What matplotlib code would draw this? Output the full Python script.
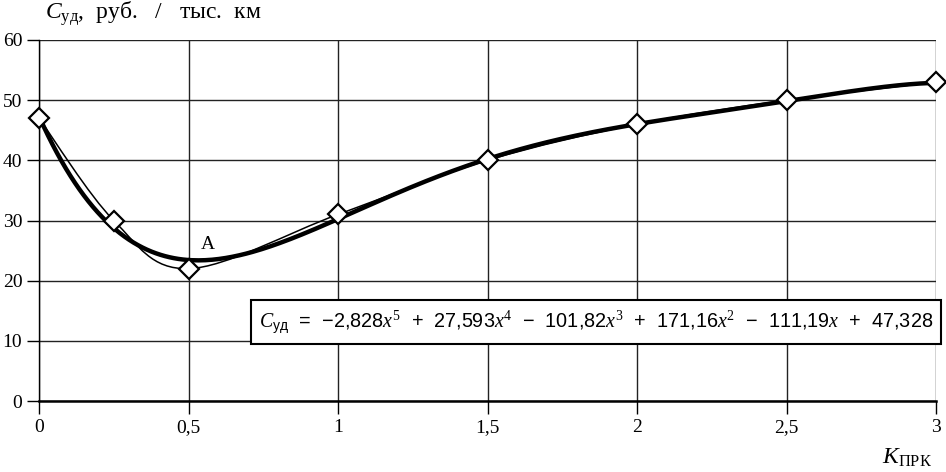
import numpy as np
import matplotlib
matplotlib.use("Agg")
import matplotlib.pyplot as plt
from matplotlib.path import Path
from matplotlib.patches import PathPatch

# Data
x_pts = [0, 0.25, 0.5, 1.0, 1.5, 2.0, 2.5, 3.0]
y_pts = [47, 30, 22, 31, 40, 46, 50, 53]
poly_coeffs = [-2.828, 27.593, -101.82, 171.16, -111.19, 47.328]
x_ticks = [0, 0.5, 1, 1.5, 2, 2.5, 3]
x_tick_labels = ["0", "0,5", "1", "1,5", "2", "2,5", "3"]
y_ticks = [0, 10, 20, 30, 40, 50, 60]

plt.rcParams["mathtext.fontset"] = "custom"
plt.rcParams["mathtext.rm"] = "Liberation Serif"
plt.rcParams["mathtext.it"] = "Liberation Serif:italic"
plt.rcParams["mathtext.bf"] = "Liberation Serif:bold"

serif = ["Liberation Serif", "DejaVu Serif"]
narrow = ["Liberation Sans Narrow", "Liberation Sans", "DejaVu Sans"]

fig = plt.figure(figsize=(9.46, 4.72), dpi=100)
ax = fig.add_axes([39/946, 71/472, (936-39)/946, (401-40)/472])
ax.set_xlim(0, 3)
ax.set_ylim(0, 60)

for s in ["top", "right"]:
    ax.spines[s].set_visible(False)
ax.spines["left"].set_linewidth(1.0)
ax.spines["bottom"].set_linewidth(1.8)

ax.set_xticks(x_ticks)
ax.set_xticklabels(x_tick_labels, fontfamily=serif, fontsize=14)
ax.set_yticks(y_ticks)
ax.set_yticklabels([str(v) for v in y_ticks], fontfamily=serif, fontsize=14)
ax.tick_params(axis="both", direction="out", length=9, width=1.0, color="black")
ax.tick_params(axis="x", pad=4)
ax.tick_params(axis="y", pad=3)
ax.grid(True, color="#222222", linewidth=1.0)
ax.set_axisbelow(True)

# Thin smoothed line through points (Catmull-Rom -> Bezier)
xs = np.array(x_pts, float)
ys = np.array(y_pts, float)
verts = [(xs[0], ys[0])]
codes = [Path.MOVETO]
n = len(xs)
for i in range(n - 1):
    p0 = np.array([xs[max(i-1, 0)], ys[max(i-1, 0)]])
    p1 = np.array([xs[i], ys[i]])
    p2 = np.array([xs[i+1], ys[i+1]])
    p3 = np.array([xs[min(i+2, n-1)], ys[min(i+2, n-1)]])
    c1 = p1 + (p2 - p0) / 6.0
    c2 = p2 - (p3 - p1) / 6.0
    verts += [tuple(c1), tuple(c2), tuple(p2)]
    codes += [Path.CURVE4] * 3
ax.add_patch(PathPatch(Path(verts, codes), facecolor="none", edgecolor="black",
                       linewidth=1.1, zorder=3))

# Polynomial trendline
xx = np.linspace(0, 3, 400)
ax.plot(xx, np.polyval(poly_coeffs, xx), color="black", linewidth=3.2, zorder=4,
        solid_capstyle="round")

ax.plot(x_pts, y_pts, linestyle="none", marker="D", markersize=10,
        markerfacecolor="white", markeredgecolor="black", markeredgewidth=1.6,
        zorder=5, clip_on=False)

ax.text(0.54, 25.3, "A", fontfamily=serif, fontsize=14, zorder=6)

# Equation box
eq = (r"$C_{\mathregular{уд}}$  =  −2,828$x^5$  +  27,593$x^4$  −  101,82$x^3$"
      r"  +  171,16$x^2$  −  111,19$x$  +  47,328")
fig.text(596/946, 1 - 322/472, eq, ha="center", va="center", fontsize=14.3,
         fontfamily=narrow,
         bbox=dict(boxstyle="square,pad=0.4", facecolor="white",
                   edgecolor="black", linewidth=1.5))

# Axis labels
fig.text(45/946, 1 - 14/472, r"$C_{\mathregular{уд}}$,  руб.   /   тыс.  км",
         fontfamily=serif, fontsize=17, ha="left", va="center")
fig.text(882/946, 1 - 458/472, r"$K_{\mathregular{ПРК}}$",
         fontfamily=serif, fontsize=17, ha="left", va="center")

fig.savefig("out.png", dpi=100)
